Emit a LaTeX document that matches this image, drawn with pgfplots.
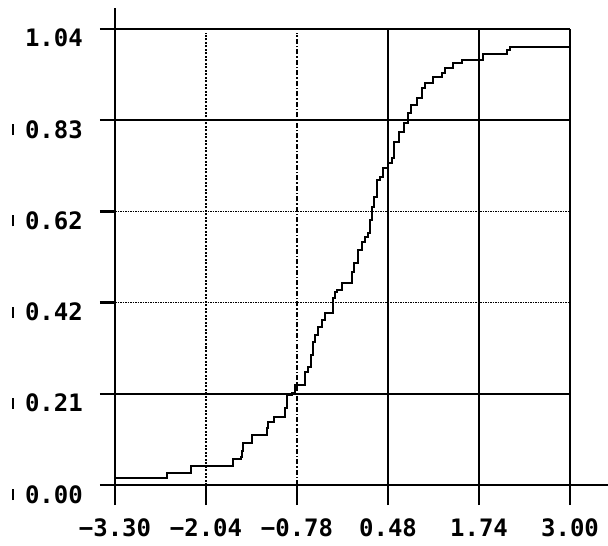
\documentclass[border=0pt]{standalone}
\usepackage{pgfplots}
\pgfplotsset{compat=1.18}
\usepackage{fontspec}
\setmainfont{DejaVu Sans Mono}
\newcommand{\ybar}{\rule[3pt]{2pt}{11pt}\hspace{11pt}}
\begin{document}
\begin{tikzpicture}
\begin{axis}[
  scale only axis, width=455pt, height=456pt,
  xmin=-3.3, xmax=3.0, ymin=0, ymax=1.04,
  clip=false,
  axis line style={draw=none},
  tick style={draw=none},
  xtick={-3.3,-2.04,-0.78,0.48,1.74,3.0},
  xticklabels={−3.30,−2.04,−0.78,0.48,1.74,3.00},
  ytick={0,0.208,0.416,0.624,0.832,1.04},
  yticklabels={\ybar 0.00,\ybar 0.21,\ybar 0.42,\ybar 0.62,\ybar 0.83,1.04},
  xticklabel style={anchor=base, inner sep=0pt, yshift=-51pt, font=\fontsize{24}{24}\selectfont\bfseries},
  yticklabel style={anchor=base east, inner sep=0pt, xshift=-32pt, yshift=-18pt, font=\fontsize{24}{24}\selectfont\bfseries},
]
\coordinate (bl) at (axis cs:-3.3,0);
\coordinate (tr) at (axis cs:3,1.04);
% horizontal lines
\draw[line width=2.6pt] ([xshift=-15pt]axis cs:-3.3,1.04) -- (axis cs:3,1.04);
\draw[line width=2.6pt] ([xshift=-15pt]axis cs:-3.3,0.832) -- (axis cs:3,0.832);
\draw[line width=2.6pt] ([xshift=-15pt]axis cs:-3.3,0.208) -- (axis cs:3,0.208);
\draw[line width=2.6pt] ([xshift=-15pt]axis cs:-3.3,0.624) -- (axis cs:-3.3,0.624);
\draw[line width=2.6pt] ([xshift=-15pt]axis cs:-3.3,0.416) -- (axis cs:-3.3,0.416);
\draw[line width=1.5pt, dash pattern=on 1.5pt off 1pt] (axis cs:-3.3,0.624) -- (axis cs:2.97,0.624);
\draw[line width=1.5pt, dash pattern=on 1.5pt off 1pt] (axis cs:-3.3,0.416) -- (axis cs:2.97,0.416);
% vertical lines
\draw[line width=1.5pt, dash pattern=on 2pt off 1.5pt] (axis cs:-2.04,0) -- (axis cs:-2.04,1.03);
\draw[line width=2pt] ([yshift=-20pt]axis cs:-2.04,0) -- (axis cs:-2.04,0);
\draw[line width=1.5pt, dash pattern=on 5pt off 2pt on 1.5pt off 2pt] (axis cs:-0.78,0) -- (axis cs:-0.78,1.03);
\draw[line width=2pt] ([yshift=-20pt]axis cs:-0.78,0) -- (axis cs:-0.78,0);
\draw[line width=1.6pt] ([yshift=-20pt]axis cs:0.48,0) -- (axis cs:0.48,1.04);
\draw[line width=1.6pt] ([yshift=-20pt]axis cs:1.74,0) -- (axis cs:1.74,1.04);
\draw[line width=2.3pt] ([yshift=-20pt]axis cs:3.0,0) -- (axis cs:3.0,1.04);
% axes
\draw[line width=2.3pt] ([yshift=-20pt]axis cs:-3.3,0) -- ([yshift=21pt]axis cs:-3.3,1.04);
\draw[line width=2.6pt] ([xshift=-15pt]axis cs:-3.3,0) -- ([xshift=38pt]axis cs:3.0,0);
\addplot[const plot, line width=2pt, black] coordinates {
(-3.30,0.016)
(-2.58,0.027)
(-2.25,0.043)
(-1.67,0.059)
(-1.555,0.064)
(-1.545,0.078)
(-1.53,0.096)
(-1.407,0.114)
(-1.195,0.130)
(-1.175,0.144)
(-1.098,0.155)
(-0.946,0.176)
(-0.918,0.205)
(-0.849,0.210)
(-0.808,0.228)
(-0.669,0.258)
(-0.628,0.269)
(-0.586,0.296)
(-0.558,0.326)
(-0.531,0.342)
(-0.489,0.360)
(-0.434,0.376)
(-0.392,0.392)
(-0.281,0.426)
(-0.254,0.440)
(-0.226,0.445)
(-0.157,0.461)
(-0.018,0.486)
(0.009,0.506)
(0.065,0.536)
(0.120,0.554)
(0.162,0.566)
(0.203,0.575)
(0.231,0.604)
(0.259,0.634)
(0.286,0.657)
(0.328,0.696)
(0.369,0.702)
(0.411,0.723)
(0.480,0.734)
(0.536,0.746)
(0.563,0.782)
(0.632,0.805)
(0.702,0.826)
(0.757,0.848)
(0.799,0.867)
(0.882,0.883)
(0.951,0.905)
(0.992,0.917)
(1.103,0.930)
(1.228,0.940)
(1.269,0.951)
(1.380,0.962)
(1.505,0.969)
(1.795,0.984)
(2.128,0.992)
(2.169,1.000)
(3.00,1.000)
};
\end{axis}
\pgfresetboundingbox
\path[use as bounding box] ([shift={(-115pt,-60pt)}]bl) rectangle ([shift={(38pt,29pt)}]tr);
\end{tikzpicture}
\end{document}
